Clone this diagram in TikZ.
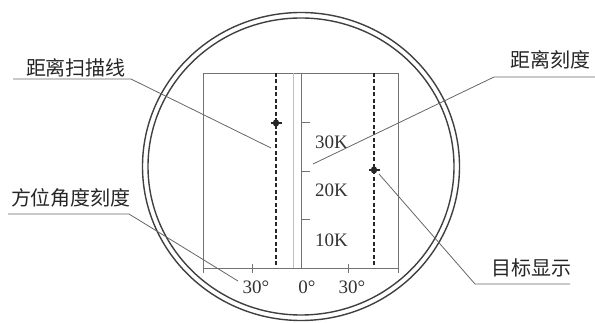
\documentclass[tikz,border=0pt]{standalone}
\usepackage{fontspec}
\setmainfont{Liberation Serif}
\newfontfamily\cjk{Noto Sans CJK SC}
\begin{document}
\begin{tikzpicture}[x=1pt,y=-1pt,
  ring/.style={draw=black!75,line width=1.4pt},
  frame/.style={draw=black!55,line width=0.9pt},
  faint/.style={draw=black!25,line width=0.7pt},
  scanline/.style={draw=black!85,line width=1.8pt,dash pattern=on 4pt off 2.5pt},
  leader/.style={draw=black!60,line width=0.8pt},
  cjklabel/.style={font=\cjk\fontsize{20}{22}\selectfont,text=black!85,inner sep=0pt},
  num/.style={font=\fontsize{19}{21}\selectfont,text=black!80,inner sep=0pt},
  target/.style={fill=black!85,draw=none}]
\useasboundingbox (0,0) rectangle (595,323);
% screen rings
\draw[ring] (301,166.5) ellipse [x radius=158.5, y radius=154];
\draw[ring] (301,166.5) ellipse [x radius=153, y radius=148.5];
% display frame
\draw[frame] (203,73) rectangle (398,268);
\draw[faint] (293,73) -- (293,268);
\draw[frame] (301,73) -- (301,268);
% range ticks
\foreach \yy in {122,171,219} \draw[frame] (301,\yy) -- (310,\yy);
% azimuth ticks
\foreach \xx in {203,252,348,398} \draw[frame] (\xx,264) -- (\xx,273);
% scan lines
\draw[scanline] (276,73) -- (276,268);
\draw[scanline] (374,73) -- (374,268);
% targets
\coordinate (tg1) at (276,123);
\coordinate (tg2) at (374,170);
\foreach \t in {tg1,tg2}{
  \fill[target] (\t) ellipse [x radius=3.2, y radius=3.6];
  \draw[black!85,line width=1.6pt] ([xshift=-5.5pt]\t) -- ([xshift=5.5pt]\t);
}
% range numbers
\node[num,anchor=west] (r30) at (315,142) {30K};
\node[num,anchor=west] (r20) at (315,190) {20K};
\node[num,anchor=west] (r10) at (315,240) {10K};
% azimuth numbers
\node[num] (aL) at (256,287) {30°};
\node[num] (a0) at (307,287) {0°};
\node[num] (aR) at (352,287) {30°};
% callout labels
\node[cjklabel] (lscan) at (76,68) {距离扫描线};
\node[cjklabel] (lazi) at (71,198) {方位角度刻度};
\node[cjklabel] (lrng) at (550,60) {距离刻度};
\node[cjklabel] (ltgt) at (531,268) {目标显示};
% leader lines
\coordinate (u1a) at (13,79);   \coordinate (u1b) at (131,79);  \coordinate (p1) at (271,148);
\coordinate (u2a) at (8,214);   \coordinate (u2b) at (129,214); \coordinate (p2) at (238,281);
\coordinate (u3a) at (595,77);  \coordinate (u3b) at (494,77);  \coordinate (p3) at (313,164);
\coordinate (u4a) at (570,284); \coordinate (u4b) at (475,284); \coordinate (p4) at (379,174);
\draw[leader] (u1a) -- (u1b) -- (p1);
\draw[leader] (u2a) -- (u2b) -- (p2);
\draw[leader] (u3a) -- (u3b) -- (p3);
\draw[leader] (u4a) -- (u4b) -- (p4);
\end{tikzpicture}
\end{document}
